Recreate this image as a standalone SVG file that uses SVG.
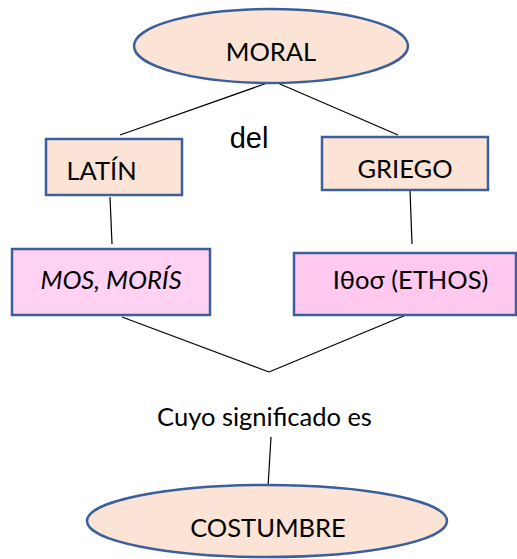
<svg xmlns="http://www.w3.org/2000/svg" width="517" height="559" viewBox="0 0 517 559">
<style>
.node{stroke:#3A5F9A;stroke-width:2.5}
.peach{fill:#FBE4D6}
.pink1{fill:#FFD2F4}
.pink2{fill:#FFC8EE}
.lbl{font-family:Lato,"Open Sans",sans-serif;font-size:25.5px;fill:#000}
.conn line{stroke:#000;stroke-width:1.2}
</style>
<rect width="517" height="559" fill="#fff"/>
<g class="conn">
<line x1="273" y1="81" x2="120" y2="135"/>
<line x1="273" y1="81" x2="398" y2="135"/>
<line x1="110" y1="197" x2="112" y2="244"/>
<line x1="410" y1="190" x2="412" y2="244"/>
<line x1="122" y1="317" x2="269" y2="372"/>
<line x1="406" y1="315" x2="269" y2="372"/>
<line x1="271" y1="437" x2="268" y2="487"/>
</g>
<g id="moral">
<ellipse class="node peach" cx="271" cy="46" rx="137" ry="37"/>
<text class="lbl" x="271" y="61" text-anchor="middle">MORAL</text>
</g>
<g id="del">
<text x="249" y="148" text-anchor="middle" font-family="Liberation Sans,Arial,sans-serif" font-size="29">del</text>
</g>
<g id="latin">
<rect class="node peach" x="46" y="139" width="136" height="56"/>
<text class="lbl" x="101.5" y="180" text-anchor="middle">LATÍN</text>
</g>
<g id="griego">
<rect class="node peach" x="322" y="137" width="166" height="53"/>
<text class="lbl" x="405" y="178" text-anchor="middle">GRIEGO</text>
</g>
<g id="mos">
<rect class="node pink1" x="12" y="249" width="198" height="66"/>
<text class="lbl" x="111" y="289" text-anchor="middle" font-style="italic" font-size="27">MOS, MORÍS</text>
</g>
<g id="ethos">
<rect class="node pink2" x="294" y="253" width="222" height="62"/>
<text class="lbl" x="410.5" y="289" text-anchor="middle">Iθoσ (ETHOS)</text>
</g>
<g id="significado">
<text class="lbl" x="264.5" y="426" text-anchor="middle" font-size="26.5">Cuyo significado es</text>
</g>
<g id="costumbre">
<ellipse class="node peach" cx="267" cy="521" rx="180" ry="36"/>
<text class="lbl" x="268" y="537" text-anchor="middle">COSTUMBRE</text>
</g>
</svg>
